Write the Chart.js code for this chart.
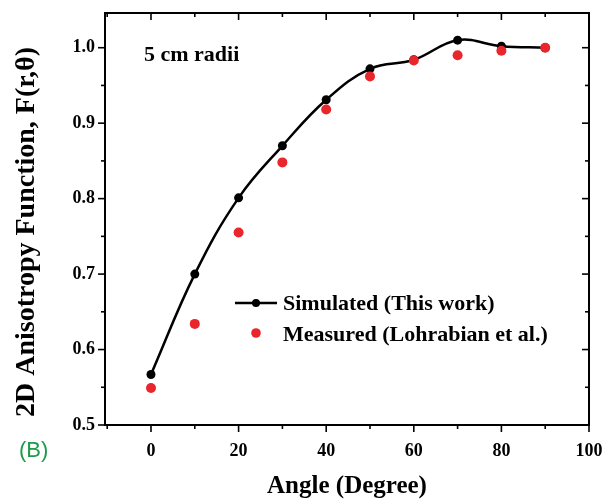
<!DOCTYPE html>
<html>
<head>
<meta charset="utf-8">
<script src="https://cdn.jsdelivr.net/npm/chart.js@4.4.1/dist/chart.umd.min.js"></script>
<style>
  html, body { margin: 0; padding: 0; background: #fff; }
  #wrap { position: relative; width: 611px; height: 502px; }
</style>
</head>
<body>
<div id="wrap"><canvas id="chart" width="611" height="502"></canvas></div>
<script>
// data
const angles = [0, 10, 20, 30, 40, 50, 60, 70, 80, 90];
const simulated = [0.567, 0.700, 0.801, 0.870, 0.931, 0.972, 0.984, 1.010, 1.002, 1.000];
const measured = [0.549, 0.634, 0.755, 0.848, 0.918, 0.962, 0.983, 0.990, 0.996, 1.000];
const xTickValues = [0, 20, 40, 60, 80, 100];
const yTickValues = [0.5, 0.6, 0.7, 0.8, 0.9, 1.0];
const xMinorValues = [-10, 10, 30, 50, 70, 90];
const yMinorValues = [0.55, 0.65, 0.75, 0.85, 0.95];
const yTitle = '2D Anisotropy Function, F(r,\u03b8)';

const serif = '"Liberation Serif", "Times New Roman", serif';

// frame + ticks on all four sides (outward bottom/left, inward top/right)
const framePlugin = {
    id: 'frame',
    afterDraw(chart) {
        const ctx = chart.ctx;
        const a = chart.chartArea;
        const xs = chart.scales.x, ys = chart.scales.y;
        ctx.save();
        ctx.strokeStyle = '#000';
        ctx.lineWidth = 2;
        ctx.strokeRect(a.left, a.top, a.right - a.left, a.bottom - a.top);
        ctx.lineWidth = 1.6;
        function tick(x1, y1, x2, y2) {
            ctx.beginPath(); ctx.moveTo(x1, y1); ctx.lineTo(x2, y2); ctx.stroke();
        }
        xTickValues.concat(xMinorValues).forEach(v => {
            const len = xTickValues.includes(v) ? 7 : 4;
            const px = xs.getPixelForValue(v);
            tick(px, a.bottom, px, a.bottom + len);
            tick(px, a.top, px, a.top + len);
        });
        yTickValues.concat(yMinorValues).forEach(v => {
            const len = yTickValues.includes(v) ? 7 : 4;
            const py = ys.getPixelForValue(v);
            tick(a.left - len, py, a.left, py);
            tick(a.right - len, py, a.right, py);
        });
        ctx.restore();
    }
};

// legend, annotation, y title and panel tag
const notePlugin = {
    id: 'note',
    afterDraw(chart) {
        const ctx = chart.ctx;
        const ds = chart.data.datasets;
        ctx.save();
        ctx.fillStyle = '#000';
        ctx.textBaseline = 'alphabetic';
        ctx.font = 'bold 22px ' + serif;
        ctx.fillText('5 cm radii', 144, 61);

        // simulated entry
        ctx.strokeStyle = ds[0].borderColor;
        ctx.lineWidth = 2.5;
        ctx.beginPath(); ctx.moveTo(235, 303); ctx.lineTo(277, 303); ctx.stroke();
        ctx.fillStyle = ds[0].pointBackgroundColor;
        ctx.beginPath(); ctx.arc(256, 303, 4, 0, Math.PI * 2); ctx.fill();
        ctx.fillStyle = '#000';
        ctx.fillText(ds[0].label, 283, 310);

        // measured entry
        ctx.fillStyle = ds[1].pointBackgroundColor;
        ctx.beginPath(); ctx.arc(256, 333, 4.8, 0, Math.PI * 2); ctx.fill();
        ctx.fillStyle = '#000';
        ctx.fillText(ds[1].label, 283, 341);

        // y axis title
        ctx.save();
        ctx.translate(27, 232);
        ctx.rotate(-Math.PI / 2);
        ctx.font = 'bold 28px ' + serif;
        ctx.textAlign = 'center';
        ctx.textBaseline = 'middle';
        ctx.fillText(yTitle, 0, 0);
        ctx.restore();

        // panel tag
        ctx.font = '22px "Liberation Sans", Arial, sans-serif';
        ctx.fillStyle = '#1f9a4b';
        ctx.textBaseline = 'middle';
        ctx.fillText('(B)', 19, 451);
        ctx.restore();
    }
};

// keep the plot box where the figure has it
function noLabelPadding(s) {
    s.paddingTop = 0; s.paddingBottom = 0;
    s.paddingLeft = 0; s.paddingRight = 0;
}

new Chart(document.getElementById('chart').getContext('2d'), {
    type: 'line',
    data: {
        datasets: [
            {
                label: 'Simulated (This work)',
                data: angles.map((a, i) => ({ x: a, y: simulated[i] })),
                borderColor: '#000',
                borderWidth: 2.5,
                pointBackgroundColor: '#000',
                pointBorderWidth: 0,
                pointRadius: 4.5,
                tension: 0.4,
                order: 2
            },
            {
                label: 'Measured (Lohrabian et al.)',
                data: angles.map((a, i) => ({ x: a, y: measured[i] })),
                showLine: false,
                borderColor: '#e8262b',
                pointBackgroundColor: '#e8262b',
                pointBorderWidth: 0,
                pointRadius: 5,
                order: 1
            }
        ]
    },
    options: {
        responsive: false,
        animation: false,
        layout: { padding: { top: 13, right: 22, left: 0, bottom: 0 } },
        plugins: {
            legend: { display: false },
            tooltip: { enabled: false }
        },
        scales: {
            x: {
                type: 'linear',
                min: -10.5,
                max: 100,
                afterBuildTicks: s => { s.ticks = xTickValues.map(v => ({ value: v })); },
                afterFit: s => { s.height = 77; noLabelPadding(s); },
                grid: { display: false, drawTicks: false },
                border: { display: false },
                ticks: {
                    padding: 16,
                    color: '#000',
                    font: { family: serif, size: 18, weight: 'bold' }
                },
                title: {
                    display: true,
                    text: 'Angle (Degree)',
                    color: '#000',
                    padding: { top: 0, bottom: 0 },
                    font: { family: serif, size: 25, weight: 'bold' }
                }
            },
            y: {
                min: 0.5,
                max: 1.046,
                afterBuildTicks: s => { s.ticks = yTickValues.map(v => ({ value: v })); },
                afterFit: s => { s.width = 105; noLabelPadding(s); },
                grid: { display: false, drawTicks: false },
                border: { display: false },
                ticks: {
                    padding: 10,
                    color: '#000',
                    font: { family: serif, size: 18, weight: 'bold' },
                    callback: v => v.toFixed(1)
                }
            }
        }
    },
    plugins: [framePlugin, notePlugin]
});
</script>
</body>
</html>
